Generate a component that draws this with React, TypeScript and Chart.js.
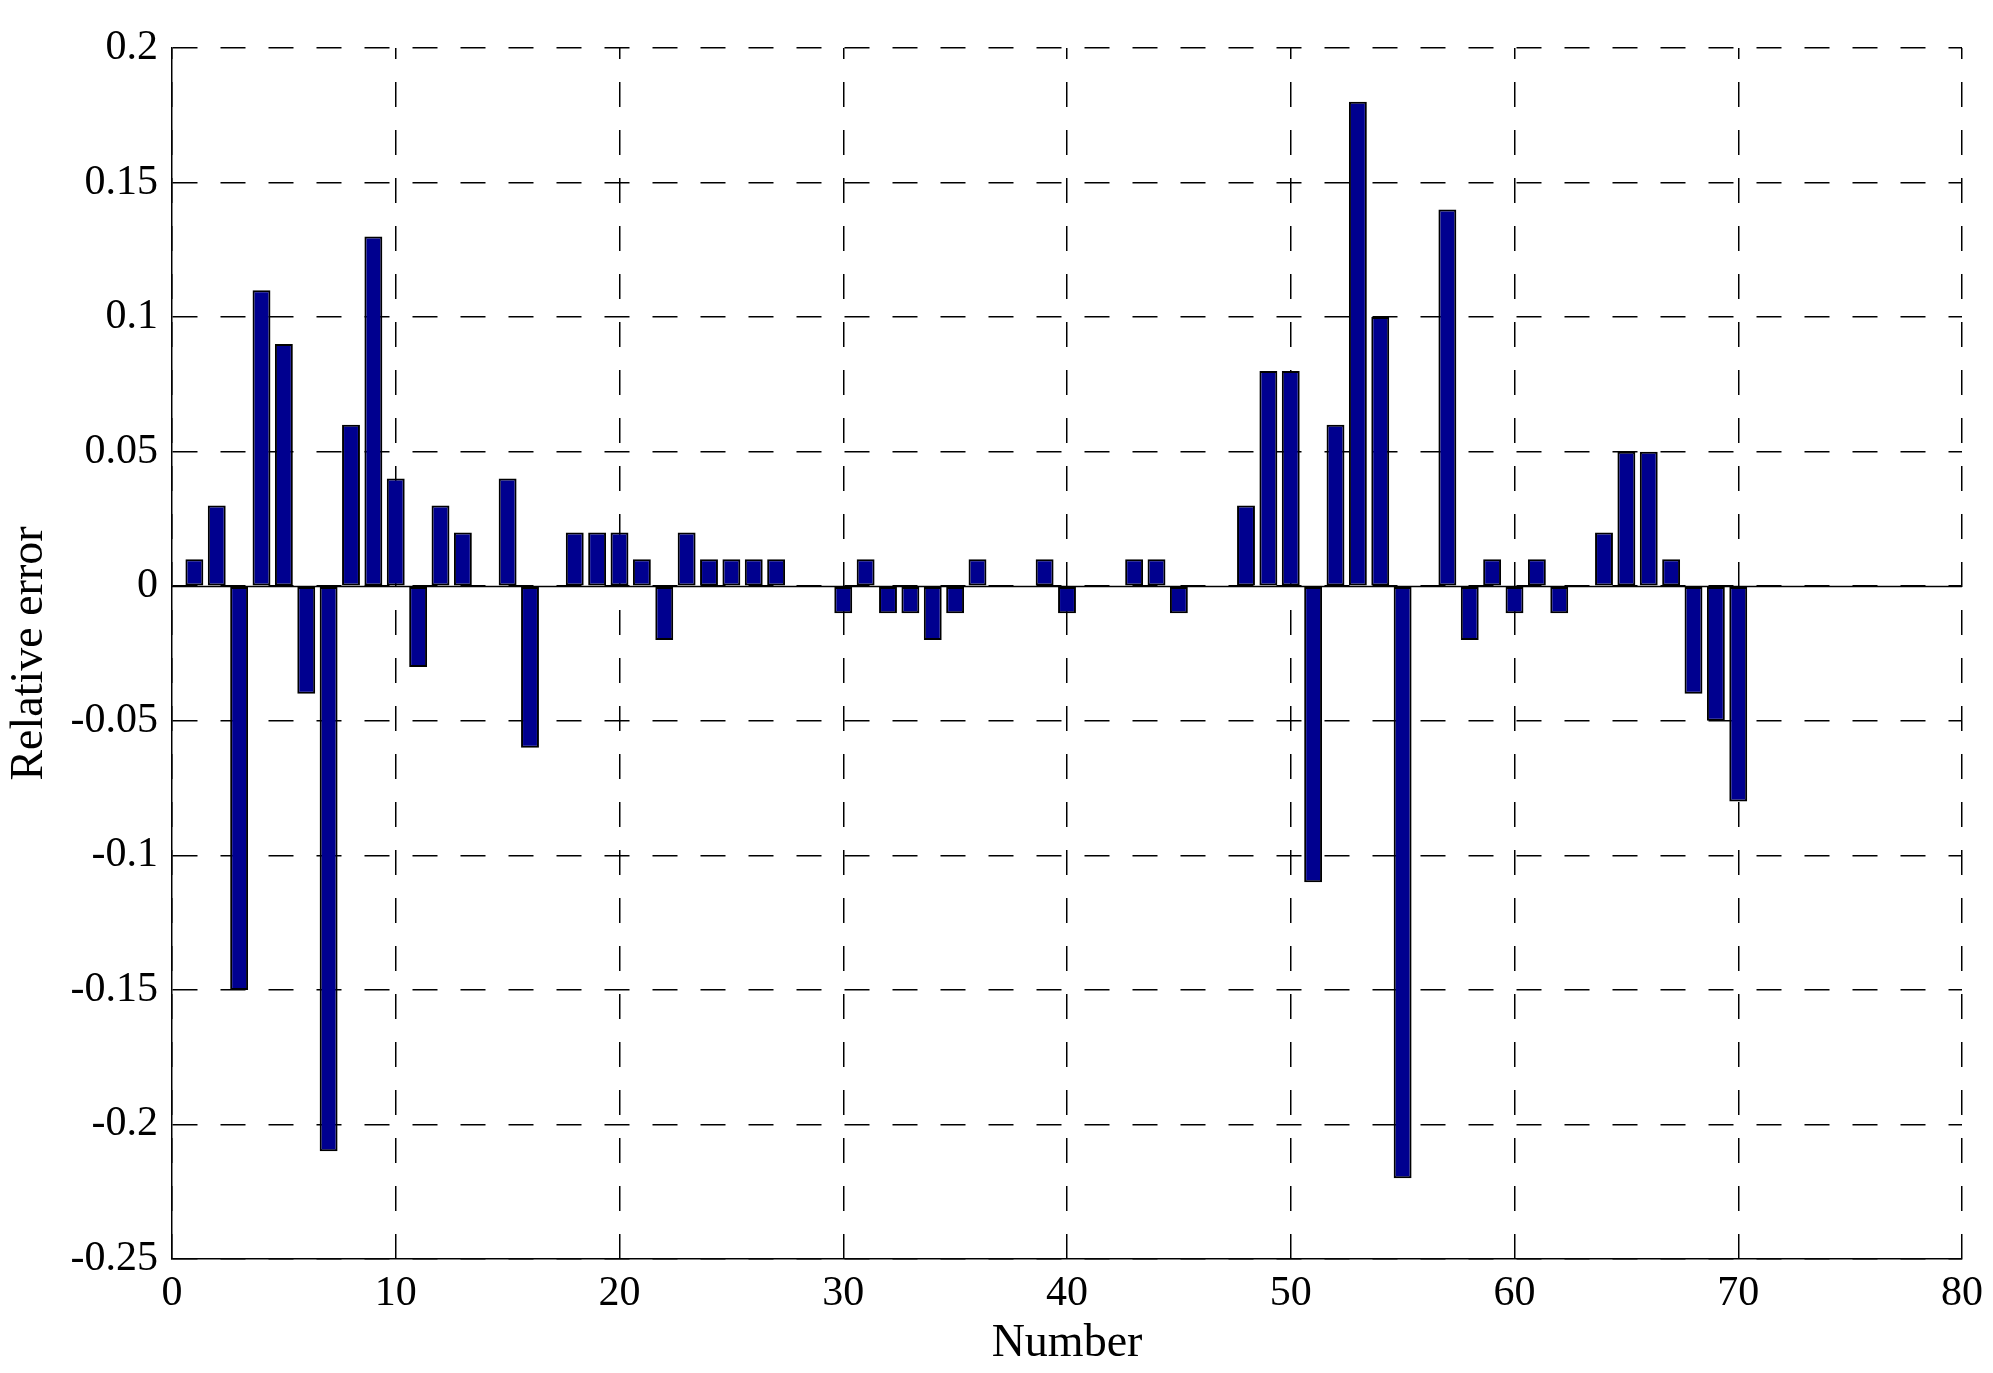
import React, { useEffect, useRef } from "react";
import { Chart, registerables } from "chart.js";

Chart.register(...registerables);

// Category index (Number)
const numbers = [
  1, 2, 3, 4, 5, 6, 7, 8, 9, 10,
  11, 12, 13, 14, 15, 16, 17, 18, 19, 20,
  21, 22, 23, 24, 25, 26, 27, 28, 29, 30,
  31, 32, 33, 34, 35, 36, 37, 38, 39, 40,
  41, 42, 43, 44, 45, 46, 47, 48, 49, 50,
  51, 52, 53, 54, 55, 56, 57, 58, 59, 60,
  61, 62, 63, 64, 65, 66, 67, 68, 69, 70,
];

// Relative error values
const relativeError = [
  0.01, 0.03, -0.15, 0.11, 0.09, -0.04, -0.21, 0.06, 0.13, 0.04,
  -0.03, 0.03, 0.02, 0, 0.04, -0.06, 0, 0.02, 0.02, 0.02,
  0.01, -0.02, 0.02, 0.01, 0.01, 0.01, 0.01, 0, 0, -0.01,
  0.01, -0.01, -0.01, -0.02, -0.01, 0.01, 0, 0, 0.01, -0.01,
  0, 0, 0.01, 0.01, -0.01, 0, 0, 0.03, 0.08, 0.08,
  -0.11, 0.06, 0.18, 0.1, -0.22, 0, 0.14, -0.02, 0.01, -0.01,
  0.01, -0.01, 0, 0.02, 0.05, 0.05, 0.01, -0.04, -0.05, -0.08,
];

const xTickValues = [0, 10, 20, 30, 40, 50, 60, 70, 80];
const xTickLabels = ["0", "10", "20", "30", "40", "50", "60", "70", "80"];
const yTickValues = [-0.25, -0.2, -0.15, -0.1, -0.05, 0, 0.05, 0.1, 0.15, 0.2];
const yTickLabels = ["-0.25", "-0.2", "-0.15", "-0.1", "-0.05", "0", "0.05", "0.1", "0.15", "0.2"];

const FONT_FAMILY = '"Liberation Serif", "Times New Roman", serif';
const FONT_SIZE = 42;
const TITLE_SIZE = 46;

const W = 1993;
const H = 1373;

const zeroLinePlugin = {
  id: "zeroLine",
  beforeDatasetsDraw(chart: any) {
    const { ctx, chartArea, scales } = chart;
    const y = Math.round(scales.y.getPixelForValue(0)) + 0.5;
    ctx.save();
    ctx.strokeStyle = "#000";
    ctx.lineWidth = 1.5;
    ctx.setLineDash([]);
    ctx.beginPath();
    ctx.moveTo(chartArea.left, y);
    ctx.lineTo(chartArea.right, y);
    ctx.stroke();
    ctx.restore();
  },
};

export default function App() {
  const canvasRef = useRef<HTMLCanvasElement | null>(null);

  useEffect(() => {
    const canvas = canvasRef.current;
    if (!canvas) return;
    const data = numbers.map((n, i) => ({ x: n, y: relativeError[i] }));
    const chart = new Chart(canvas, {
      type: "bar",
      data: {
        datasets: [
          {
            data: data as any,
            backgroundColor: "#00008F",
            borderColor: "#000000",
            borderWidth: 2,
            borderSkipped: false,
            barPercentage: 0.8,
            categoryPercentage: 1,
          },
        ],
      },
      options: {
        responsive: false,
        animation: false,
        devicePixelRatio: 1,
        layout: { padding: { top: 48, right: 31, bottom: 0, left: 0 } },
        plugins: {
          legend: { display: false },
          tooltip: { enabled: false },
        },
        scales: {
          x: {
            type: "linear",
            min: 0,
            max: 80,
            offset: false,
            grid: {
              offset: false,
              color: "#000",
              lineWidth: 1.5,
              drawTicks: false,
            },
            border: { display: true, color: "#000", width: 1.5, dash: [25, 23], dashOffset: 14 },
            afterBuildTicks: (scale: any) => {
              scale.ticks = xTickValues.map((v) => ({ value: v }));
            },
            afterFit: (scale: any) => {
              scale.height = H - 1259;
            },
            ticks: {
              autoSkip: false,
              maxRotation: 0,
              padding: 10,
              color: "#000",
              font: { family: FONT_FAMILY, size: FONT_SIZE },
              callback: (v: any) => {
                const idx = xTickValues.indexOf(Number(v));
                return idx >= 0 ? xTickLabels[idx] : "";
              },
            },
            title: {
              display: true,
              text: "Number",
              color: "#000",
              font: { family: FONT_FAMILY, size: TITLE_SIZE },
              padding: { top: 0, bottom: 1 },
            },
          },
          y: {
            type: "linear",
            min: -0.25,
            max: 0.2,
            grid: {
              color: "#000",
              lineWidth: 1.5,
              drawTicks: false,
            },
            border: { display: true, color: "#000", width: 1.5, dash: [25, 23], dashOffset: 0 },
            afterBuildTicks: (scale: any) => {
              scale.ticks = yTickValues.map((v) => ({ value: v }));
            },
            afterFit: (scale: any) => {
              scale.width = 172;
            },
            ticks: {
              autoSkip: false,
              padding: 14,
              color: "#000",
              font: { family: FONT_FAMILY, size: FONT_SIZE },
              callback: (v: any) => {
                const num = Number(v);
                let best = 0;
                for (let i = 0; i < yTickValues.length; i++) {
                  if (Math.abs(yTickValues[i] - num) < Math.abs(yTickValues[best] - num)) best = i;
                }
                return yTickLabels[best];
              },
            },
            title: {
              display: true,
              text: "Relative error",
              color: "#000",
              font: { family: FONT_FAMILY, size: TITLE_SIZE },
              padding: { top: 2, bottom: 0 },
            },
          },
        },
      },
      plugins: [zeroLinePlugin],
    });
    return () => {
      chart.destroy();
    };
  }, []);

  return (
    <div
      style={{
        position: "absolute",
        left: 0,
        top: 0,
        width: W,
        height: H,
        background: "#fff",
      }}
    >
      <canvas ref={canvasRef} width={W} height={H} style={{ display: "block", width: W, height: H }} />
    </div>
  );
}
